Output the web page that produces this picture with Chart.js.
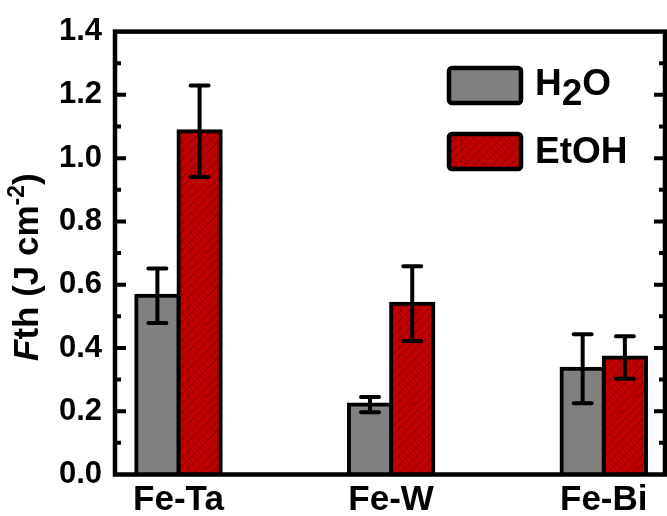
<!DOCTYPE html>
<html>
<head>
<meta charset="utf-8">
<script src="https://cdn.jsdelivr.net/npm/chart.js@4/dist/chart.umd.min.js"></script>
<style>
  body { margin: 0; background: #fff; }
  #wrap { width: 667px; height: 516px; }
</style>
</head>
<body>
<div id="wrap"><canvas id="fth-chart" width="667" height="516"></canvas></div>
<script>
const categories = ['Fe-Ta', 'Fe-W', 'Fe-Bi'];
const seriesNames = ['H2O', 'EtOH'];
const waterValues = [0.565, 0.221, 0.334];
const waterErrors = [0.086, 0.024, 0.109];
const ethanolValues = [1.085, 0.540, 0.370];
const ethanolErrors = [0.145, 0.118, 0.067];
const yTicks = [0, 0.2, 0.4, 0.6, 0.8, 1.0, 1.2, 1.4];

const FONT = 'Arial, "Liberation Sans", sans-serif';

(function () {
    const canvas = document.getElementById('fth-chart');
    const ctx = canvas.getContext('2d');

    // red fill with thin diagonal hatch
    function hatch() {
        const s = 9;
        const c = document.createElement('canvas');
        c.width = s; c.height = s;
        const g = c.getContext('2d');
        g.fillStyle = '#c00000';
        g.fillRect(0, 0, s, s);
        g.strokeStyle = 'rgba(40,0,0,0.6)';
        g.lineWidth = 0.8;
        g.beginPath();
        g.moveTo(0, s); g.lineTo(s, 0);
        g.moveTo(-1, 1); g.lineTo(1, -1);
        g.moveTo(s - 1, s + 1); g.lineTo(s + 1, s - 1);
        g.stroke();
        return ctx.createPattern(c, 'repeat');
    }
    const redHatch = hatch();

    const errorBars = {
        id: 'errorBars',
        afterDatasetsDraw(chart) {
            const y = chart.scales.y;
            const c = chart.ctx;
            c.save();
            c.strokeStyle = '#000';
            c.lineWidth = 4;
            c.lineCap = 'round';
            chart.data.datasets.forEach((ds, di) => {
                chart.getDatasetMeta(di).data.forEach((bar, i) => {
                    const v = ds.data[i].y, e = ds.errors[i];
                    const top = y.getPixelForValue(v + e);
                    const bot = y.getPixelForValue(v - e);
                    c.beginPath();
                    c.moveTo(bar.x, top); c.lineTo(bar.x, bot);
                    c.moveTo(bar.x - 9, top); c.lineTo(bar.x + 9, top);
                    c.moveTo(bar.x - 9, bot); c.lineTo(bar.x + 9, bot);
                    c.stroke();
                });
            });
            c.restore();
        }
    };

    const frame = {
        id: 'frame',
        afterDraw(chart) {
            const a = chart.chartArea;
            const y = chart.scales.y;
            const c = chart.ctx;
            c.save();
            c.strokeStyle = '#000';
            c.lineWidth = 4;
            // minor + major ticks, inward on both sides
            for (let k = 1; k < 14; k++) {
                const py = y.getPixelForValue(k / 10);
                const len = k % 2 === 0 ? 11 : 6;
                c.beginPath();
                c.moveTo(a.left, py); c.lineTo(a.left + len, py);
                c.moveTo(a.right, py); c.lineTo(a.right - len, py);
                c.stroke();
            }
            c.lineWidth = 4.5;
            c.strokeRect(a.left, a.top, a.right - a.left, a.bottom - a.top);

            // y title: F_th (J cm^-2)
            c.translate(38, 361);
            c.rotate(-Math.PI / 2);
            c.fillStyle = '#000';
            c.textBaseline = 'alphabetic';
            let x = 0;
            const put = (txt, font, dy) => {
                c.font = font;
                c.fillText(txt, x, dy);
                x += c.measureText(txt).width;
            };
            put('F', 'italic bold 35px ' + FONT, 0);
            put('th (J cm', 'bold 35px ' + FONT, 0);
            put('-2', 'bold 23px ' + FONT, -14);
            put(')', 'bold 35px ' + FONT, 0);
            c.restore();

            // legend
            c.save();
            const fills = ['#808080', redHatch];
            const boxTop = [68, 134];
            const baseY = [95, 163];
            fills.forEach((f, i) => {
                c.beginPath();
                c.roundRect(449, boxTop[i], 72, 35, 3);
                c.fillStyle = f;
                c.fill();
                c.lineWidth = 4.5;
                c.strokeStyle = '#000';
                c.stroke();
                c.fillStyle = '#000';
                c.font = 'bold 37px ' + FONT;
                let tx = 535;
                seriesNames[i].split(/(\d)/).forEach(part => {
                    if (!part) return;
                    const sub = /\d/.test(part);
                    c.fillText(part, tx, baseY[i] + (sub ? 10 : 0));
                    tx += c.measureText(part).width;
                });
            });
            c.restore();
        }
    };

    new Chart(ctx, {
        type: 'bar',
        data: {
            datasets: [{
                label: seriesNames[0],
                data: waterValues.map((v, i) => ({ x: i + 1, y: v })),
                errors: waterErrors,
                backgroundColor: '#808080'
            }, {
                label: seriesNames[1],
                data: ethanolValues.map((v, i) => ({ x: i + 1, y: v })),
                errors: ethanolErrors,
                backgroundColor: redHatch
            }]
        },
        options: {
            responsive: false,
            animation: false,
            layout: { padding: { top: 29.5, right: 2, left: 0, bottom: 0 } },
            datasets: {
                bar: {
                    borderColor: '#000',
                    borderWidth: 4,
                    inflateAmount: 2,
                    barPercentage: 1,
                    categoryPercentage: 0.397
                }
            },
            scales: {
                x: {
                    type: 'linear',
                    min: 0.7014,
                    max: 3.288,
                    offset: false,
                    grid: { display: false },
                    border: { display: false },
                    afterBuildTicks: axis => {
                        axis.ticks = categories.map((c, i) => ({ value: i + 1 }));
                    },
                    afterFit: axis => { axis.height = 41.5; },
                    ticks: {
                        callback: v => categories[v - 1],
                        color: '#000',
                        font: { family: FONT, size: 35, weight: 'bold' },
                        padding: -3,
                        maxRotation: 0,
                        autoSkip: false
                    }
                },
                y: {
                    min: 0,
                    max: 1.4,
                    grid: { display: false, drawTicks: false },
                    border: { display: false },
                    afterBuildTicks: axis => {
                        axis.ticks = yTicks.map(v => ({ value: v }));
                    },
                    afterFit: axis => { axis.width = 115; },
                    ticks: {
                        callback: v => v.toFixed(1),
                        color: '#000',
                        font: { family: FONT, size: 31, weight: 'bold' },
                        padding: 13
                    }
                }
            },
            plugins: {
                legend: { display: false },
                tooltip: { enabled: false }
            }
        },
        plugins: [errorBars, frame]
    });
})();
</script>
</body>
</html>
